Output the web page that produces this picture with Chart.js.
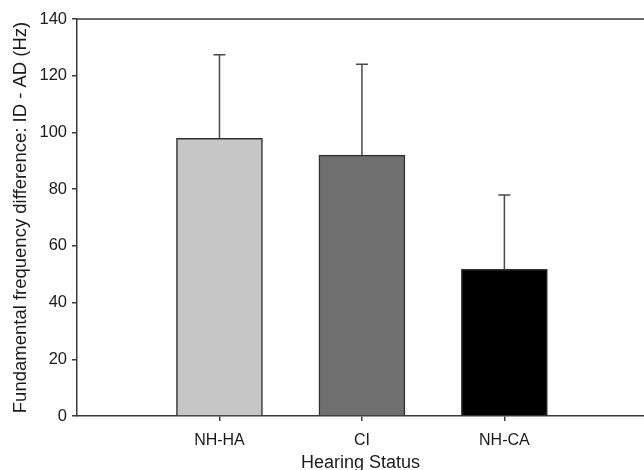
<!DOCTYPE html>
<html><head><meta charset="utf-8">
<script src="https://cdn.jsdelivr.net/npm/chart.js@4"></script>
<style>html,body{margin:0;padding:0;background:#fff}#wrap{width:644px;height:470px}</style>
</head><body><div id="wrap"><canvas id="c" width="644" height="470"></canvas></div>
<script>
const categories = ['NH-HA', 'CI', 'NH-CA'];
const meanDiff = [97.9, 92.0, 51.7];
const sdDiff = [29.5, 32.0, 26.2];
const barColors = ['#c6c6c6', '#6f6f6f', '#000000'];
const yTickValues = [0, 20, 40, 60, 80, 100, 120, 140];

const FONT = "'Liberation Sans', Arial, sans-serif";

const errorBars = {
  id: 'errorBars',
  afterDatasetsDraw(chart) {
    const ctx = chart.ctx, y = chart.scales.y;
    const meta = chart.getDatasetMeta(0);
    ctx.save();
    ctx.strokeStyle = '#4a4a4a';
    ctx.lineWidth = 1.5;
    meta.data.forEach((el, i) => {
      const top = y.getPixelForValue(meanDiff[i] + sdDiff[i]);
      ctx.beginPath();
      ctx.moveTo(el.x, el.y);
      ctx.lineTo(el.x, top);
      ctx.moveTo(el.x - 6, top);
      ctx.lineTo(el.x + 6, top);
      ctx.stroke();
    });
    ctx.restore();
  }
};
const topBorder = {
  id: 'topBorder',
  afterDraw(chart) {
    const a = chart.chartArea, ctx = chart.ctx;
    ctx.save();
    ctx.strokeStyle = '#3a3a3a';
    ctx.lineWidth = 1.5;
    ctx.beginPath();
    ctx.moveTo(a.left, a.top);
    ctx.lineTo(a.right + 2, a.top);
    ctx.stroke();
    ctx.restore();
  }
};

new Chart(document.getElementById('c'), {
  type: 'bar',
  data: {
    datasets: [{
      data: categories.map((c, i) => ({ x: i + 1, y: meanDiff[i] })),
      backgroundColor: barColors,
      borderColor: '#303030',
      borderWidth: 1.5,
      borderSkipped: 'bottom',
      barThickness: 86
    }]
  },
  options: {
    responsive: false,
    animation: false,
    layout: { padding: { top: 19, right: 0, left: 0, bottom: 0 } },
    plugins: { legend: { display: false }, tooltip: { enabled: false } },
    scales: {
      x: {
        type: 'linear',
        offset: false,
        min: 0, max: 3.98,
        afterBuildTicks: (s) => { s.ticks = categories.map((c, i) => ({ value: i + 1 })); },
        afterFit: (s) => { s.height = 54; },
        ticks: {
          callback: (v) => categories[v - 1],
          autoSkip: false, maxRotation: 0,
          color: '#1a1a1a', font: { family: FONT, size: 16 }, padding: 10
        },
        grid: { offset: false, drawOnChartArea: false, drawTicks: true, tickLength: 5, color: '#3a3a3a', lineWidth: 1.5 },
        border: { display: true, color: '#3a3a3a', width: 1.5 },
        title: { display: true, text: 'Hearing Status', color: '#1a1a1a', font: { family: FONT, size: 18 }, padding: { top: 0, bottom: -4 } }
      },
      y: {
        min: 0, max: 140,
        afterBuildTicks: (s) => { s.ticks = yTickValues.map(v => ({ value: v })); },
        afterFit: (s) => { s.width = 77; },
        ticks: { color: '#1a1a1a', font: { family: FONT, size: 16.5 }, padding: 5 },
        grid: { drawOnChartArea: false, drawTicks: true, tickLength: 5, color: '#3a3a3a', lineWidth: 1.5 },
        border: { display: true, color: '#3a3a3a', width: 1.5 },
        title: { display: true, text: 'Fundamental frequency difference: ID - AD (Hz)', color: '#1a1a1a', font: { family: FONT, size: 18.5 }, padding: { top: 10, bottom: 0 } }
      }
    }
  },
  plugins: [errorBars, topBorder]
});
</script></body></html>
